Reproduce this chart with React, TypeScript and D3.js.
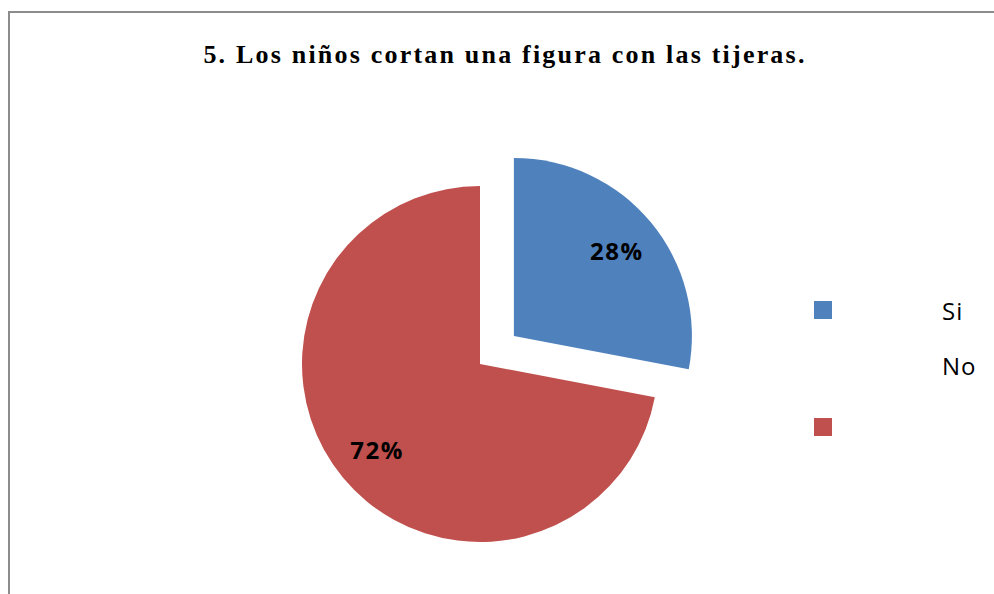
import React, { useEffect, useRef } from "react";
import * as d3 from "d3";

// chart data
const categories = ["Si", "No"];
const percents = [28, 72];
const colors = ["#4f81bd", "#c0504d"];
const title = "5. Los niños cortan una figura con las tijeras.";

const App = () => {
  const ref = useRef<SVGSVGElement | null>(null);

  useEffect(() => {
    const width = 994,
      height = 594;
    const svg = d3.select(ref.current);
    svg.selectAll("*").remove();
    svg.attr("width", width).attr("height", height);

    // white background and chart frame
    svg.append("rect").attr("width", width).attr("height", height).attr("fill", "#fff");
    svg
      .append("rect")
      .attr("x", 9)
      .attr("y", 12)
      .attr("width", width + 20)
      .attr("height", height + 20)
      .attr("fill", "none")
      .attr("stroke", "#8c8c8c")
      .attr("stroke-width", 2);

    // title
    svg
      .append("text")
      .attr("x", 505)
      .attr("y", 63)
      .attr("text-anchor", "middle")
      .style("font-family", "'Liberation Serif', 'Times New Roman', serif")
      .style("font-weight", "bold")
      .style("font-size", "26px")
      .style("letter-spacing", "2.2px")
      .text(title);

    // pie
    const cx = 480,
      cy = 364,
      r = 178,
      explode = 44;
    const pie = d3.pie<number>().sort(null).value((d) => d);
    const arcs = pie(percents);
    const arc = d3.arc<d3.PieArcDatum<number>>().innerRadius(0).outerRadius(r);

    const g = svg.append("g").attr("transform", `translate(${cx},${cy})`);
    const slices = g
      .selectAll(".slice")
      .data(arcs)
      .enter()
      .append("g")
      .attr("class", "slice")
      .attr("transform", (d, i) => {
        if (i !== 0) return null;
        const mid = (d.startAngle + d.endAngle) / 2;
        return `translate(${Math.sin(mid) * explode},${-Math.cos(mid) * explode})`;
      });

    slices
      .append("path")
      .attr("d", arc)
      .attr("fill", (d, i) => colors[i]);

    // percent labels
    slices
      .append("text")
      .attr("x", (d) => Math.sin((d.startAngle + d.endAngle) / 2) * r * 0.75)
      .attr("y", (d) => -Math.cos((d.startAngle + d.endAngle) / 2) * r * 0.75)
      .attr("text-anchor", "middle")
      .attr("dominant-baseline", "central")
      .style("font-family", "'Open Sans', sans-serif")
      .style("font-weight", "bold")
      .style("font-size", "24px")
      .style("letter-spacing", "1.5px")
      .attr("fill", "#000")
      .text((d) => `${d.data}%`);

    // legend (labels and swatches are offset as in the original)
    const legendY = d3.scalePoint<string>().domain(categories).range([310, 365]);
    const legend = svg.append("g");
    legend
      .selectAll(".swatch")
      .data(categories)
      .enter()
      .append("rect")
      .attr("class", "swatch")
      .attr("x", 814)
      .attr("y", (d, i) => (i === 0 ? 301 : 418))
      .attr("width", 18)
      .attr("height", 18)
      .attr("fill", (d, i) => colors[i]);
    legend
      .selectAll(".label")
      .data(categories)
      .enter()
      .append("text")
      .attr("class", "label")
      .attr("x", 942)
      .attr("y", (d) => legendY(d)!)
      .attr("dominant-baseline", "central")
      .style("font-family", "'Open Sans', sans-serif")
      .style("font-size", "24px")
      .style("letter-spacing", "1px")
      .text((d) => d);
  }, []);

  return (
    <div style={{ position: "absolute", left: 0, top: 0 }}>
      <svg ref={ref} style={{ display: "block" }}></svg>
    </div>
  );
};

export default App;
